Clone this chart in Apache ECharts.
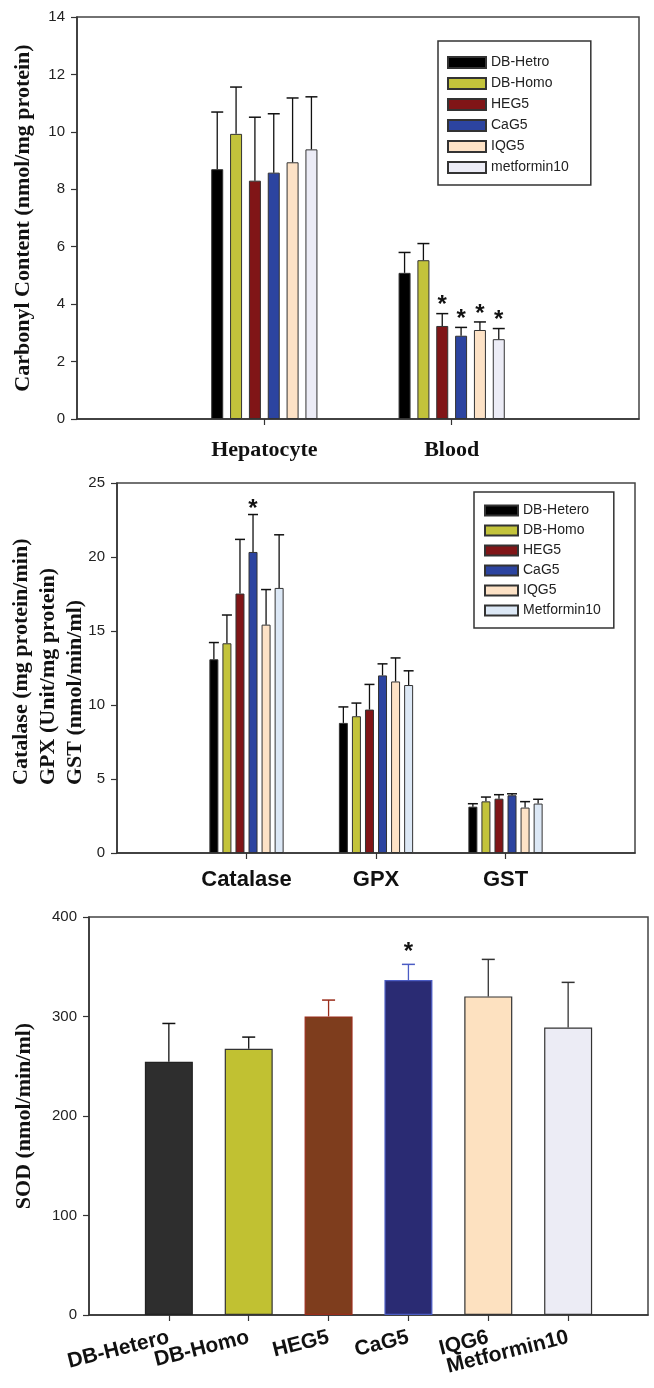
<!DOCTYPE html>
<html><head><meta charset="utf-8">
<script src="https://cdn.jsdelivr.net/npm/echarts@6/dist/echarts.min.js"></script>
<style>html,body{margin:0;padding:0;background:#fff}#c{width:654px;height:1388px}</style>
</head><body><div id="c"></div>
<script>
// ---------- Panel 1: Carbonyl content ----------
const carbonylCategories = ['Hepatocyte', 'Blood'];
const carbonylGroups = ['DB-Hetro', 'DB-Homo', 'HEG5', 'CaG5', 'IQG5', 'metformin10'];
const carbonylHepatocyteMean = [8.70, 9.93, 8.30, 8.58, 8.94, 9.39];
const carbonylHepatocyteSD   = [1.99, 1.63, 2.21, 2.05, 2.24, 1.83];
const carbonylHepatocyteSig  = [0, 0, 0, 0, 0, 0];
const carbonylBloodMean = [5.09, 5.53, 3.24, 2.90, 3.10, 2.78];
const carbonylBloodSD   = [0.71, 0.58, 0.43, 0.29, 0.28, 0.37];
const carbonylBloodSig  = [0, 0, 1, 1, 1, 1];
const carbonylYTicks = [0, 2, 4, 6, 8, 10, 12, 14];

// ---------- Panel 2: Catalase / GPX / GST ----------
const enzymeCategories = ['Catalase', 'GPX', 'GST'];
const enzymeGroups = ['DB-Hetero', 'DB-Homo', 'HEG5', 'CaG5', 'IQG5', 'Metformin10'];
const catalaseMean = [13.09, 14.17, 17.53, 20.34, 15.43, 17.91];
const catalaseSD   = [1.13, 1.91, 3.66, 2.53, 2.37, 3.59];
const catalaseSig  = [0, 0, 0, 1, 0, 0];
const gpxMean = [8.79, 9.24, 9.69, 12.00, 11.59, 11.35];
const gpxSD   = [1.08, 0.89, 1.70, 0.78, 1.59, 0.96];
const gpxSig  = [0, 0, 0, 0, 0, 0];
const gstMean = [3.13, 3.49, 3.67, 3.90, 3.07, 3.34];
const gstSD   = [0.20, 0.29, 0.27, 0.10, 0.40, 0.29];
const gstSig  = [0, 0, 0, 0, 0, 0];
const enzymeYTicks = [0, 5, 10, 15, 20, 25];
const enzymeTitleLines = ['Catalase (mg protein/min)', 'GPX (Unit/mg protein)', 'GST (nmol/min/ml)'];

// ---------- Panel 3: SOD ----------
const sodCategories = ['DB-Hetero', 'DB-Homo', 'HEG5', 'CaG5', 'IQG6', 'Metformin10'];
const sodMean = [254.5, 267.6, 300.1, 336.6, 320.2, 289.0];
const sodSD   = [38.5, 11.7, 16.4, 15.8, 37.2, 45.3];
const sodSig  = [0, 0, 0, 1, 0, 0];
const sodYTicks = [0, 100, 200, 300, 400];

// ---------- styles ----------
const carbonylColors = ['#000000', '#c3c33b', '#801517', '#2c44a0', '#fde2c6', '#ececf6'];
const enzymeColors   = ['#000000', '#c3c33b', '#801517', '#2c44a0', '#fde2c6', '#dce8f6'];
const sodColors      = ['#2e2e2e', '#c1c132', '#7e3d1d', '#2a2b73', '#fde1c0', '#ececf5'];
const sodBorders     = ['#222222', '#333333', '#9a2c1a', '#4b5cc4', '#333333', '#333333'];
const sodErrColors   = ['#111111', '#111111', '#9a2c1a', '#4b5cc4', '#333333', '#333333'];

const SANS = '"Liberation Sans", Arial, sans-serif';
const NARROW = '"Liberation Sans Narrow", "Liberation Sans", Arial, sans-serif';
const SERIF = '"Liberation Serif", "Times New Roman", serif';

function pad(cats) { return [''].concat(cats, ['']); }
function tickCfg(ticks) { return { min: ticks[0], max: ticks[ticks.length - 1], interval: ticks[1] - ticks[0] }; }

const chart = echarts.init(document.getElementById('c'), null, { renderer: 'canvas' });

const grids = [
  { left: 77, top: 17, width: 562, height: 402 },
  { left: 117, top: 483, width: 518, height: 370 },
  { left: 89, top: 917, width: 559, height: 398 }
].map(g => Object.assign(g, { show: true, borderColor: '#444', borderWidth: 1.5, backgroundColor: 'transparent' }));

function xAxisCfg(gi, cats, label) {
  return {
    gridIndex: gi, type: 'category', data: pad(cats), boundaryGap: false,
    axisLine: { lineStyle: { color: '#333', width: 1.5 } },
    axisTick: { length: 6, interval: (i, v) => v !== '', lineStyle: { color: '#333', width: 1.2 } },
    axisLabel: Object.assign({ interval: 0, color: '#111' }, label),
    splitLine: { show: false }
  };
}
function yAxisCfg(gi, ticks, name, nameGap) {
  return Object.assign({
    gridIndex: gi, type: 'value',
    name: name, nameLocation: 'middle', nameRotate: 90, nameGap: nameGap,
    nameTextStyle: { fontFamily: SERIF, fontWeight: 'bold', fontSize: 22, color: '#111' },
    axisLine: { show: true, lineStyle: { color: '#333', width: 1.5 } },
    axisTick: { show: true, length: 6, lineStyle: { color: '#333', width: 1.2 } },
    axisLabel: { fontFamily: NARROW, fontSize: 15, color: '#222', margin: 12 },
    splitLine: { show: false }
  }, tickCfg(ticks));
}

function errorSeries(gi, items, n, bw, gapPx, cap, starOff, errColors) {
  return {
    type: 'custom', xAxisIndex: gi, yAxisIndex: gi, z: 5, silent: true,
    data: items,
    encode: { x: 0, y: 2 },
    renderItem: function (params, api) {
      const ci = api.value(0), g = api.value(1), m = api.value(2), sd = api.value(3), sig = api.value(4);
      const base = api.coord([ci, m]);
      const top = api.coord([ci, m + sd]);
      const x = base[0] + (g - (n - 1) / 2) * (bw + gapPx);
      const col = errColors ? errColors[errColors.length === n ? g : params.dataIndex] : '#111';
      const children = [
        { type: 'line', shape: { x1: x, y1: base[1], x2: x, y2: top[1] }, style: { stroke: col, lineWidth: 1.3 } },
        { type: 'line', shape: { x1: x - cap / 2, y1: top[1], x2: x + cap / 2, y2: top[1] }, style: { stroke: col, lineWidth: 1.5 } }
      ];
      if (sig) {
        children.push({ type: 'text', x: x, y: top[1] - starOff,
          style: { text: '*', fontSize: 24, fontWeight: 'bold', fontFamily: SANS, fill: '#111', align: 'center', verticalAlign: 'middle' } });
      }
      return { type: 'group', children: children };
    }
  };
}

const series = [];

// Panel 1 bars
const p1Means = [carbonylHepatocyteMean, carbonylBloodMean];
const p1SDs = [carbonylHepatocyteSD, carbonylBloodSD];
const p1Sigs = [carbonylHepatocyteSig, carbonylBloodSig];
const p1BW = 12, p1Gap = 0.57;
carbonylGroups.forEach((name, g) => {
  series.push({
    type: 'bar', name: name, xAxisIndex: 0, yAxisIndex: 0,
    data: [null].concat(p1Means.map(arr => arr[g]), [null]),
    barWidth: p1BW, barGap: (p1Gap * 100) + '%',
    itemStyle: { color: carbonylColors[g], borderColor: '#333', borderWidth: 1 }
  });
});
const p1Err = [];
p1Means.forEach((arr, ci) => arr.forEach((m, g) => p1Err.push([ci + 1, g, m, p1SDs[ci][g], p1Sigs[ci][g]])));
series.push(errorSeries(0, p1Err, 6, p1BW, p1BW * p1Gap, p1BW, 8));

// Panel 2 bars
const p2Means = [catalaseMean, gpxMean, gstMean];
const p2SDs = [catalaseSD, gpxSD, gstSD];
const p2Sigs = [catalaseSig, gpxSig, gstSig];
const p2BW = 9, p2Gap = 0.45;
enzymeGroups.forEach((name, g) => {
  series.push({
    type: 'bar', name: name, xAxisIndex: 1, yAxisIndex: 1,
    data: [null].concat(p2Means.map(arr => arr[g]), [null]),
    barWidth: p2BW, barGap: (p2Gap * 100) + '%',
    itemStyle: { color: enzymeColors[g], borderColor: '#333', borderWidth: 1 }
  });
});
const p2Err = [];
p2Means.forEach((arr, ci) => arr.forEach((m, g) => p2Err.push([ci + 1, g, m, p2SDs[ci][g], p2Sigs[ci][g]])));
series.push(errorSeries(1, p2Err, 6, p2BW, p2BW * p2Gap, p2BW + 1, 5));

// Panel 3 bars
series.push({
  type: 'bar', name: 'SOD', xAxisIndex: 2, yAxisIndex: 2, barWidth: 48,
  data: [null].concat(sodMean.map((v, i) => ({ value: v, itemStyle: { color: sodColors[i], borderColor: sodBorders[i], borderWidth: 1.2 } })), [null])
});
const p3Err = sodMean.map((m, i) => [i + 1, 0, m, sodSD[i], sodSig[i]]);
series.push(errorSeries(2, p3Err, 1, 48, 0, 13, 12, sodErrColors));

const legendCommon = {
  orient: 'vertical', icon: 'rect', selectedMode: false,
  borderColor: '#333', borderWidth: 1.5,
  textStyle: { fontFamily: SANS, fontSize: 14, color: '#222', lineHeight: 15 }
};

const option = {
  animation: false,
  backgroundColor: '#fff',
  grid: grids,
  xAxis: [
    xAxisCfg(0, carbonylCategories, { fontFamily: SERIF, fontWeight: 'bold', fontSize: 22, margin: 20 }),
    xAxisCfg(1, enzymeCategories, { fontFamily: SANS, fontWeight: 'bold', fontSize: 22, margin: 16 }),
    xAxisCfg(2, sodCategories, { fontFamily: SANS, fontWeight: 'bold', fontSize: 21, rotate: 14, margin: 22 })
  ],
  yAxis: [
    yAxisCfg(0, carbonylYTicks, 'Carbonyl Content (nmol/mg protein)', 43),
    yAxisCfg(1, enzymeYTicks, '', 0),
    yAxisCfg(2, sodYTicks, 'SOD (nmol/min/ml)', 54)
  ],
  legend: [
    Object.assign({}, legendCommon, { data: carbonylGroups, left: 438, top: 41, itemWidth: 38, itemHeight: 11, itemGap: 6, padding: [14, 22, 10, 9] }),
    Object.assign({}, legendCommon, { data: enzymeGroups, left: 474, top: 492, itemWidth: 33, itemHeight: 10, itemGap: 5, padding: [11, 13, 10, 10] })
  ],
  graphic: [{
    type: 'text', x: 48, y: 785, rotation: Math.PI / 2,
    style: { text: enzymeTitleLines.join('\n'), fontFamily: SERIF, fontWeight: 'bold', fontSize: 22, lineHeight: 27,
      fill: '#111', align: 'left', verticalAlign: 'middle' }
  }],
  series: series
};
chart.setOption(option);
</script>
</body></html>
